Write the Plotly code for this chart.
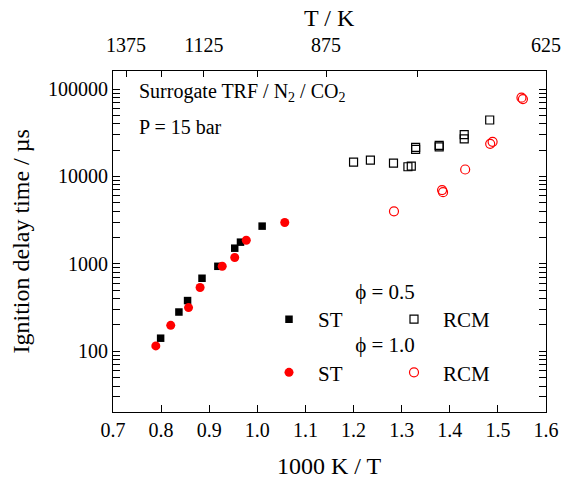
import plotly.graph_objects as go

# ---- data ----
st05_x = [0.799, 0.837, 0.855, 0.885, 0.918, 0.953, 0.965, 1.010]
st05_y = [141, 281, 380, 684, 937, 1510, 1770, 2700]
st10_x = [0.789, 0.820, 0.857, 0.881, 0.927, 0.953, 0.977, 1.057]
st10_y = [115, 198, 316, 536, 937, 1180, 1860, 2970]
rcm05_x = [1.200, 1.235, 1.283, 1.313, 1.320, 1.329, 1.329, 1.378, 1.378, 1.430, 1.430, 1.483]
rcm05_y = [14600, 15400, 14200, 12900, 13100, 21500, 20400, 22600, 21800, 30000, 26900, 44200]
rcm10_x = [1.284, 1.384, 1.386, 1.432, 1.484, 1.489, 1.549, 1.552]
rcm10_y = [3990, 6970, 6610, 12000, 23600, 24900, 79500, 76800]

x_ticks = [0.7, 0.8, 0.9, 1.0, 1.1, 1.2, 1.3, 1.4, 1.5, 1.6]
y_ticks = [100, 1000, 10000, 100000]
T_ticks = [1375, 1250, 1125, 1000, 875, 750, 625]
T_labels = ["1375", "", "1125", "", "875", "", "625"]

FONT = "Liberation Serif"
RED = "#ff0000"

y_minor = [m * 10 ** e for e in range(1, 6) for m in range(2, 10)]

# plot-area geometry in pixels
L, R, T, B = 113, 17, 71, 66
PW, PH = 563 - L - R, 478 - T - B

fig = go.Figure()
fig.add_trace(go.Scatter(x=st05_x, y=st05_y, mode="markers", name="ST",
                         marker=dict(symbol="square", size=7.5, color="black"),
                         legend="legend"))
fig.add_trace(go.Scatter(x=rcm05_x, y=rcm05_y, mode="markers", name="RCM",
                         marker=dict(symbol="square-open", size=8, color="black",
                                     line=dict(width=1.2)),
                         legend="legend"))
fig.add_trace(go.Scatter(x=st10_x, y=st10_y, mode="markers", name="ST",
                         marker=dict(symbol="circle", size=9, color=RED),
                         legend="legend2"))
fig.add_trace(go.Scatter(x=rcm10_x, y=rcm10_y, mode="markers", name="RCM",
                         marker=dict(symbol="circle-open", size=9, color=RED,
                                     line=dict(width=1.2)),
                         legend="legend2"))
# dummy trace to activate the top T axis
fig.add_trace(go.Scatter(x=[1.0], y=[1000], xaxis="x2", mode="markers",
                         marker=dict(opacity=0), showlegend=False, hoverinfo="skip"))

axis_common = dict(showline=True, linecolor="black", linewidth=1.2, automargin=False,
                   ticks="inside", tickcolor="black", showgrid=False, zeroline=False,
                   tickfont=dict(family=FONT, size=20, color="black"))

leg_common = dict(xanchor="left", yanchor="top", orientation="h",
                  font=dict(family=FONT, size=21), bgcolor="rgba(0,0,0,0)",
                  itemwidth=48, entrywidth=62, entrywidthmode="pixels", itemclick=False)

fig.update_layout(
    width=563, height=478,
    margin=dict(l=L, r=R, t=T, b=B),
    paper_bgcolor="white", plot_bgcolor="white",
    font=dict(family=FONT, size=20, color="black"),
    xaxis=dict(range=[0.7, 1.6], tickvals=x_ticks, tickformat=".1f",
               ticklen=7, mirror=False, **axis_common),
    xaxis2=dict(range=[0.7, 1.6], overlaying="x", side="top", anchor="y",
                tickvals=[1000.0 / t for t in T_ticks], ticktext=T_labels,
                ticklen=6, ticklabelstandoff=10, **axis_common),
    yaxis=dict(type="log", range=[1.305, 5.206], tickvals=y_ticks,
               ticktext=[str(v) for v in y_ticks], ticklen=7, mirror="allticks",
               minor=dict(tickvals=y_minor, ticks="inside", ticklen=4, tickcolor="black"),
               **axis_common),
    legend=dict(x=(260 - L) / PW, y=0.4115,
                title=dict(text="ϕ = 0.5", side="top center", font=dict(family=FONT, size=21)),
                **leg_common),
    legend2=dict(x=(260 - L) / PW, y=0.2554,
                 title=dict(text="ϕ = 1.0", side="top center", font=dict(family=FONT, size=21)),
                 **leg_common),
    annotations=[
        dict(text="Surrogate TRF / N<sub>2</sub> / CO<sub>2</sub>", xref="paper", yref="paper",
             x=(137 - L) / PW, y=1 - (93 - T) / PH, xanchor="left", yanchor="middle",
             showarrow=False, font=dict(family=FONT, size=20)),
        dict(text="P = 15 bar", xref="paper", yref="paper",
             x=(137 - L) / PW, y=1 - (127 - T) / PH, xanchor="left", yanchor="middle",
             showarrow=False, font=dict(family=FONT, size=20)),
        dict(text="1000 K / T", xref="paper", yref="paper",
             x=0.5, y=-(466 - T - PH) / PH, xanchor="center", yanchor="middle",
             showarrow=False, font=dict(family=FONT, size=24)),
        dict(text="T / K", xref="paper", yref="paper",
             x=0.5, y=1 + (T - 18) / PH, xanchor="center", yanchor="middle",
             showarrow=False, font=dict(family=FONT, size=24)),
        dict(text="Ignition delay time / µs", xref="paper", yref="paper", textangle=-90,
             x=-(L - 20) / PW, y=0.5, xanchor="center", yanchor="middle",
             showarrow=False, font=dict(family=FONT, size=24)),
    ],
)

fig.write_html("out.html")
